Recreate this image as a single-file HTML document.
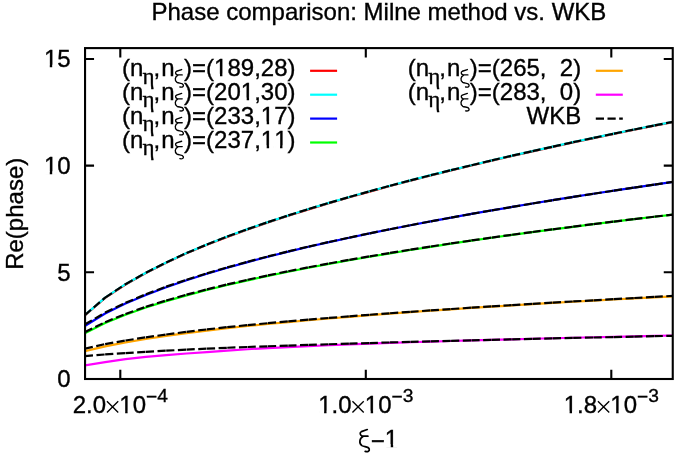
<!DOCTYPE html>
<html><head><meta charset="utf-8"><title>Phase comparison</title>
<style>
html,body{margin:0;padding:0;background:#fff;}
body{width:692px;height:456px;overflow:hidden;}
svg{display:block;will-change:transform;}
text{font-family:"Liberation Sans",sans-serif;fill:#000;font-kerning:none;stroke:#000;stroke-width:0.35px;}
</style></head><body>
<svg width="692" height="456" viewBox="0 0 692 456">
<defs><clipPath id="pc"><rect x="85.05" y="48.1" width="587.7" height="330.9"/></clipPath></defs>
<rect width="692" height="456" fill="#fff"/>
<g clip-path="url(#pc)" fill="none" stroke-linecap="butt" stroke-linejoin="round">
<path d="M84.80,315.39 L105.15,297.88 L125.50,284.49 L145.85,273.00 L166.20,262.75 L186.55,253.36 L206.90,244.83 L227.25,236.86 L247.60,229.43 L267.95,222.41 L288.30,215.72 L308.65,209.33 L329.00,203.19 L349.35,197.28 L369.70,191.57 L390.05,186.05 L410.40,180.69 L430.75,175.49 L451.10,170.43 L471.45,165.50 L491.80,160.69 L512.15,155.99 L532.50,151.40 L552.85,146.90 L573.20,142.49 L593.55,138.18 L613.90,133.94 L634.25,129.78 L654.60,125.69 L674.95,121.68 L695.30,117.73" stroke="#ff0000" stroke-width="2.2"/>
<path d="M84.80,315.09 L105.15,297.58 L125.50,284.19 L145.85,272.70 L166.20,262.45 L186.55,253.06 L206.90,244.53 L227.25,236.56 L247.60,229.13 L267.95,222.11 L288.30,215.42 L308.65,209.03 L329.00,202.89 L349.35,196.98 L369.70,191.27 L390.05,185.75 L410.40,180.39 L430.75,175.19 L451.10,170.13 L471.45,165.20 L491.80,160.39 L512.15,155.69 L532.50,151.10 L552.85,146.60 L573.20,142.19 L593.55,137.88 L613.90,133.64 L634.25,129.48 L654.60,125.39 L674.95,121.38 L695.30,117.43" stroke="#00ffff" stroke-width="2.2"/>
<path d="M84.80,325.99 L105.15,313.49 L125.50,303.56 L145.85,294.94 L166.20,287.27 L186.55,280.28 L206.90,273.82 L227.25,267.79 L247.60,262.11 L267.95,256.74 L288.30,251.62 L308.65,246.76 L329.00,242.14 L349.35,237.71 L369.70,233.43 L390.05,229.29 L410.40,225.28 L430.75,221.39 L451.10,217.61 L471.45,213.95 L491.80,210.39 L512.15,206.92 L532.50,203.52 L552.85,200.20 L573.20,196.96 L593.55,193.78 L613.90,190.66 L634.25,187.60 L654.60,184.60 L674.95,181.65 L695.30,178.76" stroke="#0000ff" stroke-width="2.2"/>
<path d="M84.80,333.38 L105.15,323.00 L125.50,314.74 L145.85,307.56 L166.20,301.17 L186.55,295.36 L206.90,290.02 L227.25,285.05 L247.60,280.37 L267.95,275.94 L288.30,271.73 L308.65,267.72 L329.00,263.91 L349.35,260.25 L369.70,256.72 L390.05,253.31 L410.40,250.00 L430.75,246.80 L451.10,243.69 L471.45,240.69 L491.80,237.77 L512.15,234.93 L532.50,232.15 L552.85,229.44 L573.20,226.79 L593.55,224.20 L613.90,221.66 L634.25,219.17 L654.60,216.73 L674.95,214.34 L695.30,212.01" stroke="#00ff00" stroke-width="2.2"/>
<path d="M84.80,351.25 L105.15,346.35 L125.50,342.43 L145.85,339.02 L166.20,335.95 L186.55,333.17 L206.90,330.59 L227.25,328.20 L247.60,326.03 L267.95,324.00 L288.30,322.07 L308.65,320.24 L329.00,318.48 L349.35,316.81 L369.70,315.20 L390.05,313.64 L410.40,312.14 L430.75,310.69 L451.10,309.31 L471.45,307.97 L491.80,306.66 L512.15,305.39 L532.50,304.15 L552.85,302.94 L573.20,301.76 L593.55,300.61 L613.90,299.48 L634.25,298.37 L654.60,297.28 L674.95,296.21 L695.30,295.13" stroke="#ffa500" stroke-width="2.2"/>
<path d="M84.80,365.47 L105.15,362.13 L125.50,359.13 L145.85,356.86 L166.20,355.08 L186.55,353.51 L206.90,352.10 L227.25,350.60 L247.60,349.23 L267.95,348.07 L288.30,347.05 L308.65,346.11 L329.00,345.24 L349.35,344.42 L369.70,343.66 L390.05,342.94 L410.40,342.25 L430.75,341.60 L451.10,340.99 L471.45,340.39 L491.80,339.82 L512.15,339.28 L532.50,338.75 L552.85,338.24 L573.20,337.74 L593.55,337.26 L613.90,336.80 L634.25,336.34 L654.60,335.89 L674.95,335.46 L695.30,335.03" stroke="#ff00ff" stroke-width="2.2"/>
<path d="M84.80,315.09L105.15,297.58 M105.15,297.58L125.50,284.19 M125.50,284.19L145.85,272.70 M145.85,272.70L166.20,262.45 M166.20,262.45L186.55,253.06 M186.55,253.06L206.90,244.53 M206.90,244.53L227.25,236.56 M227.25,236.56L247.60,229.13 M247.60,229.13L267.95,222.11 M267.95,222.11L288.30,215.42 M288.30,215.42L308.65,209.03 M308.65,209.03L329.00,202.89 M329.00,202.89L349.35,196.98 M349.35,196.98L369.70,191.27 M369.70,191.27L390.05,185.75 M390.05,185.75L410.40,180.39 M410.40,180.39L430.75,175.19 M430.75,175.19L451.10,170.13 M451.10,170.13L471.45,165.20 M471.45,165.20L491.80,160.39 M491.80,160.39L512.15,155.69 M512.15,155.69L532.50,151.10 M532.50,151.10L552.85,146.60 M552.85,146.60L573.20,142.19 M573.20,142.19L593.55,137.88 M593.55,137.88L613.90,133.64 M613.90,133.64L634.25,129.48 M634.25,129.48L654.60,125.39 M654.60,125.39L674.95,121.38 M674.95,121.38L695.30,117.43" stroke="#000" stroke-width="2.2" stroke-dasharray="8.2 3.5"/>
<path d="M84.80,324.51L105.15,312.59 M105.15,312.59L125.50,302.83 M125.50,302.83L145.85,294.27 M145.85,294.27L166.20,286.66 M166.20,286.66L186.55,279.74 M186.55,279.74L206.90,273.34 M206.90,273.34L227.25,267.37 M227.25,267.37L247.60,261.76 M247.60,261.76L267.95,256.44 M267.95,256.44L288.30,251.38 M288.30,251.38L308.65,246.57 M308.65,246.57L329.00,241.98 M329.00,241.98L349.35,237.57 M349.35,237.57L369.70,233.32 M369.70,233.32L390.05,229.21 M390.05,229.21L410.40,225.23 M410.40,225.23L430.75,221.36 M430.75,221.36L451.10,217.61 M451.10,217.61L471.45,213.95 M471.45,213.95L491.80,210.39 M491.80,210.39L512.15,206.92 M512.15,206.92L532.50,203.52 M532.50,203.52L552.85,200.20 M552.85,200.20L573.20,196.96 M573.20,196.96L593.55,193.78 M593.55,193.78L613.90,190.66 M613.90,190.66L634.25,187.60 M634.25,187.60L654.60,184.60 M654.60,184.60L674.95,181.65 M674.95,181.65L695.30,178.76" stroke="#000" stroke-width="2.2" stroke-dasharray="8.2 3.5"/>
<path d="M84.80,332.19L105.15,322.15 M105.15,322.15L125.50,313.94 M125.50,313.94L145.85,306.79 M145.85,306.79L166.20,300.44 M166.20,300.44L186.55,294.66 M186.55,294.66L206.90,289.36 M206.90,289.36L227.25,284.42 M227.25,284.42L247.60,279.78 M247.60,279.78L267.95,275.38 M267.95,275.38L288.30,271.21 M288.30,271.21L308.65,267.24 M308.65,267.24L329.00,263.46 M329.00,263.46L349.35,259.82 M349.35,259.82L369.70,256.32 M369.70,256.32L390.05,252.94 M390.05,252.94L410.40,249.67 M410.40,249.67L430.75,246.50 M430.75,246.50L451.10,243.42 M451.10,243.42L471.45,240.45 M471.45,240.45L491.80,237.56 M491.80,237.56L512.15,234.74 M512.15,234.74L532.50,231.99 M532.50,231.99L552.85,229.30 M552.85,229.30L573.20,226.68 M573.20,226.68L593.55,224.11 M593.55,224.11L613.90,221.59 M613.90,221.59L634.25,219.13 M634.25,219.13L654.60,216.71 M654.60,216.71L674.95,214.34 M674.95,214.34L695.30,212.01" stroke="#000" stroke-width="2.2" stroke-dasharray="8.2 3.5"/>
<path d="M84.80,348.59L105.15,344.08 M105.15,344.08L125.50,340.50 M125.50,340.50L145.85,337.35 M145.85,337.35L166.20,334.48 M166.20,334.48L186.55,331.85 M186.55,331.85L206.90,329.42 M206.90,329.42L227.25,327.14 M227.25,327.14L247.60,325.10 M247.60,325.10L267.95,323.19 M267.95,323.19L288.30,321.36 M288.30,321.36L308.65,319.62 M308.65,319.62L329.00,317.94 M329.00,317.94L349.35,316.33 M349.35,316.33L369.70,314.77 M369.70,314.77L390.05,313.26 M390.05,313.26L410.40,311.81 M410.40,311.81L430.75,310.40 M430.75,310.40L451.10,309.02 M451.10,309.02L471.45,307.69 M471.45,307.69L491.80,306.38 M491.80,306.38L512.15,305.11 M512.15,305.11L532.50,303.86 M532.50,303.86L552.85,302.65 M552.85,302.65L573.20,301.45 M573.20,301.45L593.55,300.28 M593.55,300.28L613.90,299.13 M613.90,299.13L634.25,298.01 M634.25,298.01L654.60,296.90 M654.60,296.90L674.95,295.81 M674.95,295.81L695.30,294.74" stroke="#000" stroke-width="2.2" stroke-dasharray="8.2 3.5"/>
<path d="M84.80,356.16L105.15,354.43 M105.15,354.43L125.50,353.05 M125.50,353.05L145.85,351.81 M145.85,351.81L166.20,350.66 M166.20,350.66L186.55,349.61 M186.55,349.61L206.90,348.63 M206.90,348.63L227.25,347.77 M227.25,347.77L247.60,347.00 M247.60,347.00L267.95,346.26 M267.95,346.26L288.30,345.57 M288.30,345.57L308.65,344.90 M308.65,344.90L329.00,344.26 M329.00,344.26L349.35,343.65 M349.35,343.65L369.70,343.05 M369.70,343.05L390.05,342.47 M390.05,342.47L410.40,341.92 M410.40,341.92L430.75,341.37 M430.75,341.37L451.10,340.85 M451.10,340.85L471.45,340.33 M471.45,340.33L491.80,339.83 M491.80,339.83L512.15,339.34 M512.15,339.34L532.50,338.86 M532.50,338.86L552.85,338.39 M552.85,338.39L573.20,337.93 M573.20,337.93L593.55,337.48 M593.55,337.48L613.90,337.04 M613.90,337.04L634.25,336.61 M634.25,336.61L654.60,336.18 M654.60,336.18L674.95,335.76 M674.95,335.76L695.30,335.35" stroke="#000" stroke-width="2.2" stroke-dasharray="8.2 3.5"/>
</g>
<rect x="85.05" y="48.1" width="587.7" height="330.9" fill="none" stroke="#000" stroke-width="2.1"/>
<path d="M85.05,272.32 h9.0 M672.75,272.32 h-9.0" stroke="#000" stroke-width="2.1"/>
<path d="M85.05,165.64 h9.0 M672.75,165.64 h-9.0" stroke="#000" stroke-width="2.1"/>
<path d="M85.05,58.96 h9.0 M672.75,58.96 h-9.0" stroke="#000" stroke-width="2.1"/>
<path d="M120.3,379.0 v-9.2 M120.3,48.1 v9.4" stroke="#000" stroke-width="2.1"/>
<path d="M365.8,379.0 v-9.2 M365.8,48.1 v9.4" stroke="#000" stroke-width="2.1"/>
<path d="M611.3,379.0 v-9.2 M611.3,48.1 v9.4" stroke="#000" stroke-width="2.1"/>
<text x="378.9" y="19.65" text-anchor="middle" font-size="24">Phase comparison: Milne method vs. WKB</text>
<text x="70.6" y="387.30" text-anchor="end" font-size="24">0</text>
<text x="70.6" y="280.62" text-anchor="end" font-size="24">5</text>
<text x="70.6" y="173.94" text-anchor="end" font-size="24">10</text>
<text x="70.6" y="67.26" text-anchor="end" font-size="24">15</text>
<text x="120.3" y="413.3" text-anchor="middle" font-size="24">2.0<tspan dx="13.2">10</tspan><tspan dy="-10.1" font-size="19.2">−</tspan><tspan dy="-1.7" font-size="19.2">4</tspan></text>
<path d="M106.94,401.20L118.24,412.50M106.94,412.50L118.24,401.20" stroke="#000" stroke-width="1.35" fill="none"/>
<text x="365.8" y="413.3" text-anchor="middle" font-size="24">1.0<tspan dx="13.2">10</tspan><tspan dy="-10.1" font-size="19.2">−</tspan><tspan dy="-1.7" font-size="19.2">3</tspan></text>
<path d="M352.44,401.20L363.74,412.50M352.44,412.50L363.74,401.20" stroke="#000" stroke-width="1.35" fill="none"/>
<text x="611.3" y="413.3" text-anchor="middle" font-size="24">1.8<tspan dx="13.2">10</tspan><tspan dy="-10.1" font-size="19.2">−</tspan><tspan dy="-1.7" font-size="19.2">3</tspan></text>
<path d="M597.94,401.20L609.24,412.50M597.94,412.50L609.24,401.20" stroke="#000" stroke-width="1.35" fill="none"/>
<text transform="translate(23.4,213.8) rotate(-90)" text-anchor="middle" font-size="24">Re(phase)</text>
<text x="370.84" y="446.8" font-size="24"><tspan dy="2.4">−</tspan><tspan dy="-2.4">1</tspan></text>
<path d="M367.27,429.52 L361.38,431.64 C359.64,432.69 359.64,435.05 362.47,436.22 L367.92,436.22 M363.12,436.45 C359.42,438.10 358.65,443.27 361.93,445.62 C364.10,447.03 368.46,446.09 369.23,448.91 C369.77,451.02 367.92,451.96 365.19,451.38" fill="none" stroke="#000" stroke-width="1.7" stroke-linecap="round" stroke-linejoin="round"/>
<text x="295.5" y="76.30" text-anchor="end" font-size="24" xml:space="preserve">(n<tspan dy="7.2" dx="-1.0" font-size="23" font-family="Liberation Serif">η</tspan><tspan dy="-7.2" dx="-1.0 1.2">,n</tspan><tspan dx="9.38">)=(189,28)</tspan></text><path d="M181.66,69.56 L176.58,71.24 C175.08,72.09 175.08,73.96 177.52,74.90 L182.22,74.90 M178.08,75.09 C174.89,76.40 174.23,80.52 177.05,82.40 C178.93,83.52 182.69,82.77 183.35,85.02 C183.82,86.71 182.22,87.46 179.87,86.99" fill="none" stroke="#000" stroke-width="1.35" stroke-linecap="round" stroke-linejoin="round"/><path d="M310.1,70.8 H337.1" stroke="#ff0000" stroke-width="2.2"/>
<text x="295.5" y="100.20" text-anchor="end" font-size="24" xml:space="preserve">(n<tspan dy="7.2" dx="-1.0" font-size="23" font-family="Liberation Serif">η</tspan><tspan dy="-7.2" dx="-1.0 1.2">,n</tspan><tspan dx="9.38">)=(201,30)</tspan></text><path d="M181.66,93.46 L176.58,95.14 C175.08,95.99 175.08,97.86 177.52,98.80 L182.22,98.80 M178.08,98.99 C174.89,100.30 174.23,104.42 177.05,106.30 C178.93,107.42 182.69,106.67 183.35,108.92 C183.82,110.61 182.22,111.36 179.87,110.89" fill="none" stroke="#000" stroke-width="1.35" stroke-linecap="round" stroke-linejoin="round"/><path d="M310.1,94.7 H337.1" stroke="#00ffff" stroke-width="2.2"/>
<text x="295.5" y="124.10" text-anchor="end" font-size="24" xml:space="preserve">(n<tspan dy="7.2" dx="-1.0" font-size="23" font-family="Liberation Serif">η</tspan><tspan dy="-7.2" dx="-1.0 1.2">,n</tspan><tspan dx="9.38">)=(233,17)</tspan></text><path d="M181.66,117.36 L176.58,119.04 C175.08,119.89 175.08,121.76 177.52,122.70 L182.22,122.70 M178.08,122.89 C174.89,124.20 174.23,128.32 177.05,130.20 C178.93,131.32 182.69,130.57 183.35,132.82 C183.82,134.51 182.22,135.26 179.87,134.79" fill="none" stroke="#000" stroke-width="1.35" stroke-linecap="round" stroke-linejoin="round"/><path d="M310.1,118.6 H337.1" stroke="#0000ff" stroke-width="2.2"/>
<text x="295.5" y="148.00" text-anchor="end" font-size="24" xml:space="preserve">(n<tspan dy="7.2" dx="-1.0" font-size="23" font-family="Liberation Serif">η</tspan><tspan dy="-7.2" dx="-1.0 1.2">,n</tspan><tspan dx="9.38">)=(237,11)</tspan></text><path d="M181.66,141.26 L176.58,142.94 C175.08,143.79 175.08,145.66 177.52,146.60 L182.22,146.60 M178.08,146.79 C174.89,148.10 174.23,152.22 177.05,154.10 C178.93,155.22 182.69,154.47 183.35,156.72 C183.82,158.41 182.22,159.16 179.87,158.69" fill="none" stroke="#000" stroke-width="1.35" stroke-linecap="round" stroke-linejoin="round"/><path d="M310.1,142.5 H337.1" stroke="#00ff00" stroke-width="2.2"/>
<text x="581.2" y="76.30" text-anchor="end" font-size="24" xml:space="preserve">(n<tspan dy="7.2" dx="-1.0" font-size="23" font-family="Liberation Serif">η</tspan><tspan dy="-7.2" dx="-1.0 1.2">,n</tspan><tspan dx="9.38">)=(265,  2)</tspan></text><path d="M467.36,69.56 L462.28,71.24 C460.78,72.09 460.78,73.96 463.22,74.90 L467.92,74.90 M463.78,75.09 C460.59,76.40 459.93,80.52 462.75,82.40 C464.63,83.52 468.39,82.77 469.05,85.02 C469.52,86.71 467.92,87.46 465.57,86.99" fill="none" stroke="#000" stroke-width="1.35" stroke-linecap="round" stroke-linejoin="round"/><path d="M595.8000000000001,70.8 H622.8000000000001" stroke="#ffa500" stroke-width="2.2"/>
<text x="581.2" y="100.20" text-anchor="end" font-size="24" xml:space="preserve">(n<tspan dy="7.2" dx="-1.0" font-size="23" font-family="Liberation Serif">η</tspan><tspan dy="-7.2" dx="-1.0 1.2">,n</tspan><tspan dx="9.38">)=(283,  0)</tspan></text><path d="M467.36,93.46 L462.28,95.14 C460.78,95.99 460.78,97.86 463.22,98.80 L467.92,98.80 M463.78,98.99 C460.59,100.30 459.93,104.42 462.75,106.30 C464.63,107.42 468.39,106.67 469.05,108.92 C469.52,110.61 467.92,111.36 465.57,110.89" fill="none" stroke="#000" stroke-width="1.35" stroke-linecap="round" stroke-linejoin="round"/><path d="M595.8000000000001,94.7 H622.8000000000001" stroke="#ff00ff" stroke-width="2.2"/>
<text x="581.2" y="124.10" text-anchor="end" font-size="24" xml:space="preserve">WKB</text><path d="M595.8000000000001,118.6 H622.8000000000001" stroke="#000" stroke-width="2.2" stroke-dasharray="8.2 3.5"/>
<g><rect x="44.82" y="171.45" width="4.96" height="3.49" fill="#fff"/><rect x="52.20" y="171.45" width="4.77" height="3.49" fill="#fff"/><rect x="44.82" y="64.77" width="4.96" height="3.49" fill="#fff"/><rect x="52.20" y="64.77" width="4.77" height="3.49" fill="#fff"/><rect x="120.22" y="410.81" width="4.96" height="3.49" fill="#fff"/><rect x="127.60" y="410.81" width="4.77" height="3.49" fill="#fff"/><rect x="319.14" y="410.81" width="4.96" height="3.49" fill="#fff"/><rect x="326.52" y="410.81" width="4.77" height="3.49" fill="#fff"/><rect x="365.72" y="410.81" width="4.96" height="3.49" fill="#fff"/><rect x="373.10" y="410.81" width="4.77" height="3.49" fill="#fff"/><rect x="564.64" y="410.81" width="4.96" height="3.49" fill="#fff"/><rect x="572.02" y="410.81" width="4.77" height="3.49" fill="#fff"/><rect x="611.22" y="410.81" width="4.96" height="3.49" fill="#fff"/><rect x="618.60" y="410.81" width="4.77" height="3.49" fill="#fff"/><rect x="385.78" y="444.31" width="4.96" height="3.49" fill="#fff"/><rect x="393.16" y="444.31" width="4.77" height="3.49" fill="#fff"/><rect x="215.02" y="73.81" width="4.96" height="3.49" fill="#fff"/><rect x="222.40" y="73.81" width="4.77" height="3.49" fill="#fff"/><rect x="241.71" y="97.71" width="4.96" height="3.49" fill="#fff"/><rect x="249.09" y="97.71" width="4.77" height="3.49" fill="#fff"/><rect x="261.73" y="121.61" width="4.96" height="3.49" fill="#fff"/><rect x="269.10" y="121.61" width="4.77" height="3.49" fill="#fff"/><rect x="261.73" y="145.51" width="4.96" height="3.49" fill="#fff"/><rect x="269.10" y="145.51" width="4.77" height="3.49" fill="#fff"/><rect x="275.07" y="145.51" width="4.96" height="3.49" fill="#fff"/><rect x="282.45" y="145.51" width="4.77" height="3.49" fill="#fff"/></g>
</svg>
</body></html>
